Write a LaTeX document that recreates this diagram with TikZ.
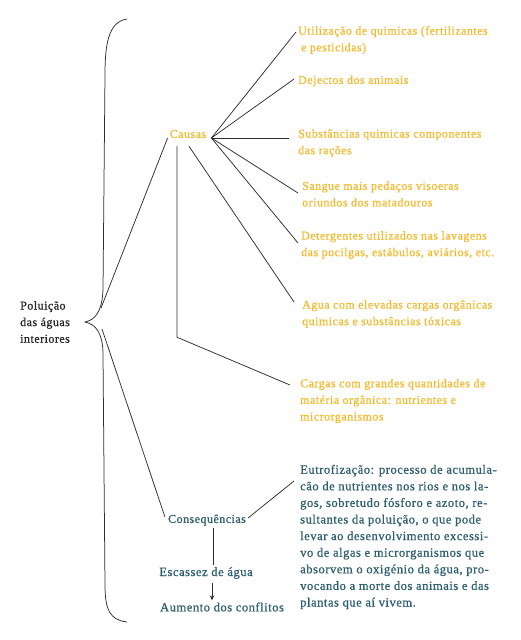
\documentclass[tikz,border=0pt]{standalone}
\usepackage{fontspec}
\setmainfont[LetterSpace=4,FakeBold=0.8]{Liberation Serif}
\usepackage{xcolor}
\usepackage{tikz}
\usetikzlibrary{arrows.meta,calc}
\definecolor{CauseOrange}{RGB}{242,186,48}
\definecolor{ConsTeal}{RGB}{45,95,112}
\definecolor{LineGray}{RGB}{45,45,45}

\begin{document}
\begin{tikzpicture}[x=1pt,y=-1pt,
  lbl/.style={font=\fontsize{12}{16.6}\selectfont,inner sep=0pt,align=left},
  cause/.style={lbl,text=CauseOrange,anchor=west},
  conseq/.style={lbl,text=ConsTeal},
  conn/.style={draw=LineGray,line width=0.75pt}]
\useasboundingbox(0,0)rectangle(521,640);
\draw[conn](127,19)..controls(108,22)and(105,45)..(105,75)--(103,290)..controls(102,312)and(95,320)..(85,322)..controls(95,324)and(103,332)..(103,355)--(105,585)..controls(105,610)and(110,620)..(127,622);
\node[lbl,text=black!85,anchor=west](pol)at(20,322){Poluição\\das águas\\interiores};
\node[lbl,text=CauseOrange](causas)at(188,134){Causas};
\node[cause](c1)at(298,40){Utilização de quimicas (fertilizantes\\\hspace{3pt}e pesticidas)};
\node[cause](c2)at(298,81){Dejectos dos animais};
\node[cause](c3)at(298,143){Substâncias quimicas componentes\\das rações};
\node[cause](c4)at(302,194){Sangue mais pedaços visoeras\\oriundos dos matadouros};
\node[cause](c5)at(301,245){Detergentes utilizados nas lavagens\\das pocilgas, estábulos, aviários, etc.};
\node[cause](c6)at(302,314){Agua com elevadas cargas orgânicas\\quimicas e substâncias tóxicas};
\node[cause](c7)at(300,401){Cargas com grandes quantidades de\\matéria orgânica: nutrientes e\\microrganismos};
\node[conseq](cons)at(207,520){Consequências};
\node[conseq,anchor=west,font=\fontsize{12.6}{16.6}\selectfont](eutro)at(300,537){Eutrofização: processo de acumula-\\cão de nutrientes nos rios e nos la-\\gos, sobretudo fósforo e azoto, re-\\sultantes da poluição, o que pode\\levar ao desenvolvimento excessi-\\vo de algas e microrganismos que\\absorvem o oxigénio da água, pro-\\vocando a morte dos animais e das\\plantas que aí vivem.};
\node[conseq,font=\fontsize{12.6}{16.6}\selectfont](esc)at(206,573){Escassez de água};
\node[conseq,font=\fontsize{12.6}{16.6}\selectfont](aum)at(222,607){Aumento dos conflitos};
\coordinate(bt)at(101,308);
\coordinate(bb)at(102,329);
\foreach \nd/\dx/\dy in {c1/-2/-8,c2/-4/-2,c3/-9/-5,c4/-4/-1,c5/-3/-2}{
  \draw[conn]($(causas.east)+(5,4)$)--($(\nd.west)+(\dx,\dy)$);
}
\draw[conn]($(causas.south)+(1,8)$)--($(c6.west)+(-8,-12)$);
\draw[conn]($(causas.south)+(-11,8)$)--++(0,191)--($(c7.west)+(-10,-16)$);
\draw[conn](bt)--($(causas.west)+(-2,4)$);
\draw[conn](bb)--($(cons.west)+(-3,-3)$);
\draw[conn]($(cons.east)+(2,-2)$)--($(eutro.west)+(-6,-56)$);
\draw[conn]($(cons.south)+(6,2)$)--($(esc.north)+(7,-2)$);
\draw[conn,-{Stealth[length=5pt,width=4.5pt]}]($(esc.south)+(6,4)$)--($(aum.north)+(-10,-2)$);
\end{tikzpicture}
\end{document}
